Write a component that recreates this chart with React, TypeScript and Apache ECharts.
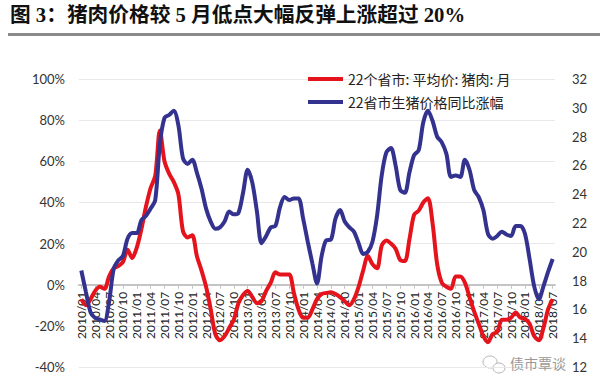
import React, { useEffect, useRef } from "react";
import * as echarts from "echarts";

const titleText = "图 3：猪肉价格较 5 月低点大幅反弹上涨超过 20%";
const redName = "22个省市: 平均价: 猪肉: 月";
const blueName = "22省市生猪价格同比涨幅";
const watermark = "债市覃谈";

const startYear = 2010;
const endYear = 2018;
const endMonth = 7;

const months: string[] = [];
for (let y = startYear; y <= endYear; y++) {
  for (let m = 1; m <= 12; m++) {
    if (y === endYear && m > endMonth) break;
    months.push(`${y}/${m < 10 ? "0" + m : m}`);
  }
}

// left axis (%)
const leftMin = -40;
const leftMax = 100;
const leftStep = 20;
const redValues = [
  -7, -10, -7, -3, -1, -2, 4, 8, 9, 11, 17, 13,
  18, 27, 38, 47, 53, 75, 60, 54, 50, 44, 26, 23,
  24, 14, 7, -1, -12, -24, -27, -25, -21, -17, -9, -5,
  -3, -6, -9, -8, -3, 1, 6, 5, 5, 5, -4, -12,
  -16, -16, -12, -7, -4.5, -4, -3.7, -4.5, -6, -8, -10, -7,
  -1, 7, 14, 10, 8, 19, 21.5, 20, 17.5, 12, 11.5, 22,
  34, 36, 40, 42, 30, 10, 1, -1, -2, 4, 4, 1,
  -6, -13, -19, -25, -28, -24, -23, -17, -17, -16, -13.5, -16,
  -16.6, -19, -25, -27, -21, -12, -7,
];

// right axis (price)
const rightMin = 12;
const rightMax = 32;
const rightStep = 2;
const blueValues = [
  18.7, 17.2, 15.8, 15.4, 15.3, 15.2, 16.5, 18.8, 19.4, 19.7, 20.9, 21.3,
  21.3, 22.2, 22.5, 23.0, 23.6, 27.5, 29.3, 29.5, 29.8, 28.8, 26.5, 26.1,
  26.4, 25.5, 24.4, 23.0, 22.1, 21.6, 21.7, 22.1, 22.8, 22.6, 22.7, 24.1,
  25.7, 24.8, 22.8, 20.6, 21.1, 21.7, 21.8, 23.1, 23.8, 23.6, 23.7, 23.7,
  22.3, 20.7, 19.2, 17.8, 19.7, 20.8, 20.85, 22.3, 22.9, 22.1, 21.7, 21.4,
  20.6, 19.85, 20.0, 20.7, 22.5, 25.3, 26.9, 27.2, 26.0, 24.3, 24.1, 25.5,
  26.7, 27.05, 29.0, 29.8, 29.1, 28.0, 27.6, 26.8, 25.2, 25.3, 25.2, 26.4,
  25.7, 24.3, 23.8, 22.9, 21.25, 20.9, 21.1, 21.4, 21.2, 21.1, 21.8, 21.8,
  21.25, 19.5, 17.6, 16.7, 17.6, 18.6, 19.5,
];

const RED = "#e5131b";
const BLUE = "#33338f";
const LABEL_FONT = "Lato, 'Liberation Sans', sans-serif";

const W = 600;
const H = 391;
const GRID_TOP = 79;
const GRID_BOTTOM = 24;

export default function App() {
  const ref = useRef<HTMLDivElement>(null);
  useEffect(() => {
    if (!ref.current) return;
    const chart = echarts.init(ref.current, undefined, { renderer: "svg" });
    const plotH = H - GRID_TOP - GRID_BOTTOM;
    // move category axis up to the 0% level of the left axis
    const zeroOffset = -((0 - leftMin) / (leftMax - leftMin)) * plotH;
    chart.setOption({
      animation: false,
      backgroundColor: "#ffffff",
      grid: { left: 79, right: 45, top: GRID_TOP, bottom: GRID_BOTTOM, containLabel: false },
      legend: {
        orient: "vertical",
        left: 303,
        top: 67,
        itemWidth: 35,
        itemHeight: 4,
        itemGap: 9,
        icon: "rect",
        textStyle: {
          fontSize: 14,
          color: "#222",
          fontFamily: "'Noto Sans CJK SC', sans-serif",
        },
        data: [redName, blueName],
      },
      graphic: [
        {
          type: "text",
          left: 10,
          top: 5,
          style: {
            text: titleText,
            fontSize: 20.7,
            fontWeight: "bold",
            fill: "#111",
            fontFamily: "'Liberation Serif', 'Noto Sans CJK SC', serif",
          },
        },
        {
          type: "rect",
          shape: { x: 8, y: 33, width: 592, height: 3 },
          style: { fill: "#8a8a8a" },
        },
        {
          type: "ellipse",
          shape: { cx: 490, cy: 362, rx: 7, ry: 6 },
          style: { fill: "none", stroke: "#b5b5b5", lineWidth: 1 },
        },
        {
          type: "ellipse",
          shape: { cx: 499, cy: 368, rx: 6, ry: 5 },
          style: { fill: "#fff", stroke: "#b5b5b5", lineWidth: 1 },
        },
        {
          type: "text",
          x: 510,
          y: 356,
          style: {
            text: watermark,
            fontSize: 14,
            fill: "#9a9a9a",
            fontFamily: "'Noto Sans CJK SC', sans-serif",
          },
          z: 100,
        },
      ],
      xAxis: {
        type: "category",
        data: months,
        boundaryGap: true,
        offset: zeroOffset,
        axisLine: {
          onZero: false,
          lineStyle: { color: "#c4c4c4", width: 2 },
        },
        axisTick: {
          show: true,
          interval: 2,
          alignWithLabel: true,
          length: 4,
          lineStyle: { color: "#c4c4c4", width: 1 },
        },
        axisLabel: {
          interval: 2,
          rotate: 90,
          margin: 7,
          fontSize: 12,
          color: "#222",
          fontFamily: LABEL_FONT,
        },
        splitLine: { show: false },
      },
      yAxis: [
        {
          type: "value",
          min: leftMin,
          max: leftMax,
          interval: leftStep,
          axisLine: { show: false },
          axisTick: { show: false },
          axisLabel: {
            formatter: "{value}%",
            fontSize: 13,
            color: "#333",
            margin: 14,
            fontFamily: LABEL_FONT,
          },
          splitLine: { lineStyle: { color: "#e8e8e8", width: 1 } },
        },
        {
          type: "value",
          min: rightMin,
          max: rightMax,
          interval: rightStep,
          axisLine: { show: false },
          axisTick: { show: false },
          axisLabel: {
            fontSize: 13,
            color: "#333",
            margin: 17,
            fontFamily: LABEL_FONT,
          },
          splitLine: { show: false },
        },
      ],
      series: [
        {
          name: redName,
          type: "line",
          yAxisIndex: 0,
          data: redValues,
          smooth: 0.3,
          showSymbol: false,
          symbol: "none",
          lineStyle: { color: RED, width: 4 },
          itemStyle: { color: RED },
        },
        {
          name: blueName,
          type: "line",
          yAxisIndex: 1,
          data: blueValues,
          smooth: 0.3,
          showSymbol: false,
          symbol: "none",
          lineStyle: { color: BLUE, width: 4 },
          itemStyle: { color: BLUE },
        },
      ],
    });
    return () => chart.dispose();
  }, []);
  return (
    <div
      ref={ref}
      style={{ position: "fixed", left: 0, top: 0, width: W, height: H }}
    />
  );
}
